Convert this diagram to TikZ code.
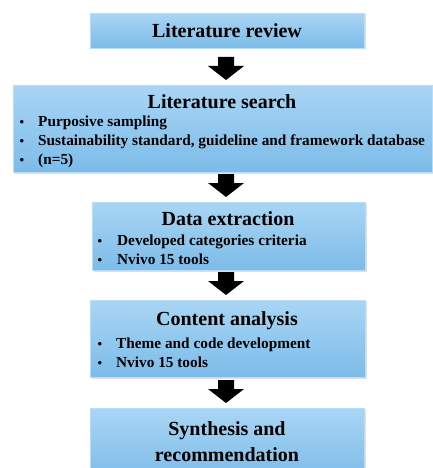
\documentclass[tikz,border=0pt]{standalone}
\usepackage{fontspec}
\setmainfont{Liberation Serif}
\usetikzlibrary{shadows,calc}
\definecolor{boxtop}{HTML}{A9D5F4}
\definecolor{boxbot}{HTML}{7CBCE9}
\definecolor{boxline}{HTML}{B9DDF6}
\tikzset{
  stage/.style={draw=boxline, line width=1pt, top color=boxtop, bottom color=boxbot,
    inner sep=0pt, anchor=north west, drop shadow={shadow xshift=1pt, shadow yshift=-1pt, opacity=0.25}},
  title/.style={font=\fontsize{20}{26}\selectfont\bfseries, align=center, inner sep=0pt},
  item/.style={font=\fontsize{15.3}{19}\selectfont\bfseries, anchor=base west, inner sep=0pt},
  dot/.style={font=\fontsize{13}{19}\selectfont\bfseries, anchor=base, inner sep=0pt},
  blockarrow/.style={fill=black}
}
% block arrow whose tip sits 5 units above the top of the given node
\newcommand{\downarrowto}[1]{%
  \path[blockarrow] ($(#1.north -| 226,0)+(0,-5)$) coordinate (tip)
    -- ++(-18,-14) -- ++(10,0) -- ++(0,-9) -- ++(16,0) -- ++(0,9) -- ++(10,0) -- cycle;}
\begin{document}
\begin{tikzpicture}[x=1pt,y=-1pt]
\useasboundingbox (0,0) rectangle (433,468);
\clip (0,0) rectangle (433,468);
% stage boxes
\node[stage, minimum width=274pt, minimum height=35pt] (b1) at (90,13) {};
\node[stage, minimum width=419pt, minimum height=87pt] (b2) at (13,85) {};
\node[stage, minimum width=273pt, minimum height=68pt] (b3) at (92,202) {};
\node[stage, minimum width=275pt, minimum height=77pt] (b4) at (90,300) {};
\node[stage, minimum width=274pt, minimum height=72pt] (b5) at (90,408) {};
% titles
\node[title] (t1) at (227,31) {Literature review};
\node[title] (t2) at (222,102) {Literature search};
\node[title] (t3) at (228,219) {Data extraction};
\node[title] (t4) at (227,321) {Content analysis};
\node[title] (t5) at (227,442) {Synthesis and\\recommendation};
% bullet lists
\node[dot] (d21) at (22,127) {•};
\node[item] (i21) at (38,127) {Purposive sampling};
\node[dot] (d22) at (22,146) {•};
\node[item] (i22) at (38,146) {Sustainability standard, guideline and framework database};
\node[dot] (d23) at (22,164) {•};
\node[item] (i23) at (38,164) {(n=5)};
\node[dot] (d31) at (100,245) {•};
\node[item] (i31) at (117,245) {Developed categories criteria};
\node[dot] (d32) at (100,264) {•};
\node[item] (i32) at (117,264) {Nvivo 15 tools};
\node[dot] (d41) at (100,348) {•};
\node[item] (i41) at (116,348) {Theme and code development};
\node[dot] (d42) at (100,367) {•};
\node[item] (i42) at (116,367) {Nvivo 15 tools};
% block arrows between stages
\downarrowto{b2}
\downarrowto{b3}
\downarrowto{b4}
\downarrowto{b5}
\end{tikzpicture}
\end{document}
